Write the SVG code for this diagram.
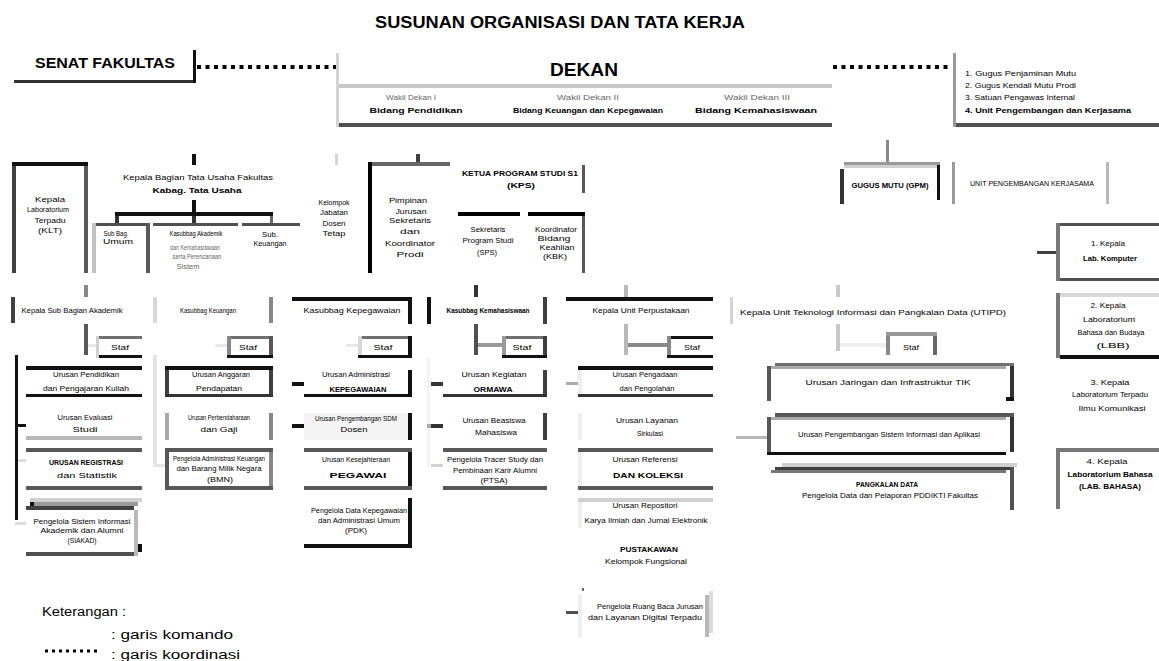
<svg xmlns="http://www.w3.org/2000/svg" width="1159" height="661" viewBox="0 0 1159 661">
<style>
  text { font-family: "Liberation Sans", Arial, sans-serif; font-size: 8px; fill: #000; text-anchor: middle; }
  .b { font-weight: bold; }
  .s { text-anchor: start; }
  .l { fill: #666; }
  .k { fill: #111; } .d3 { fill: #333; } .d4 { fill: #404040; } .d5 { fill: #505050; } .g58 { fill: #585858; }
  .g6 { fill: #666; } .g7 { fill: #707070; } .g78 { fill: #787878; } .g8 { fill: #888; } .g9 { fill: #999; }
  .ga { fill: #aaa; } .gb { fill: #b8b8b8; } .gc { fill: #c8c8c8; } .gd { fill: #d3d3d3; } .ge { fill: #e8e8e8; }
  .dot { stroke: #000; stroke-width: 4; stroke-dasharray: 4 4.5; fill: none; }
</style>
<rect width="1159" height="661" fill="#fff"/>

<text x="560" y="28" class="b" style="font-size:16px" textLength="370" lengthAdjust="spacingAndGlyphs">SUSUNAN ORGANISASI DAN TATA KERJA</text>

<!-- connectors -->
<g id="connectors">
  <line class="dot" x1="197" y1="67" x2="336" y2="67"/>
  <line class="dot" x1="833" y1="67" x2="952" y2="67"/>
  <!-- tata usaha branch -->
  <rect class="k" x="192" y="154" width="4" height="11"/>
  <rect class="k" x="192" y="200" width="4" height="14"/>
  <rect class="k" x="115" y="212" width="158" height="4"/>
  <rect class="d3" x="115" y="216" width="4" height="7"/>
  <rect class="d3" x="192" y="216" width="4" height="7"/>
  <rect class="g6" x="270" y="216" width="3" height="7"/>
  <rect class="gd" x="335" y="154" width="3" height="11"/>
  <rect class="d4" x="416" y="154" width="4" height="8"/>
  <rect class="g8" x="886" y="140" width="3" height="22"/>
  <rect class="d4" x="1037" y="251" width="19" height="3"/>
  <!-- column 1 -->
  <rect class="g8" x="84" y="285" width="4" height="12"/>
  <rect class="g58" x="84" y="324" width="4" height="31"/>
  <rect class="ge" x="88" y="344" width="8" height="3"/>
  <rect class="k" x="15" y="355" width="3" height="165"/>
  <rect class="k" x="15" y="424" width="11" height="3"/>
  <rect fill="#ddd" x="18" y="459" width="8" height="3"/>
  <rect fill="#ddd" x="15" y="522" width="11" height="3"/>
  <!-- column 2 -->
  <rect fill="#e4e4e4" x="153" y="355" width="4" height="110"/>
  <rect fill="#e4e4e4" x="153" y="464" width="12" height="3"/>
  <rect class="ge" x="215" y="344" width="12" height="3"/>
  <!-- column 3 -->
  <rect class="k" x="292" y="382" width="12" height="4"/>
  <rect class="k" x="292" y="424" width="12" height="4"/>
  <rect class="ge" x="346" y="344" width="12" height="3"/>
  <!-- column 4 -->
  <rect class="d3" x="474" y="285" width="4" height="12"/>
  <rect class="d5" x="474" y="324" width="4" height="31"/>
  <rect class="g9" x="478" y="343" width="24" height="4"/>
  <rect fill="#f4f4f4" x="427" y="358" width="3" height="109"/>
  <rect class="d3" x="431" y="382" width="12" height="4"/>
  <rect class="ga" x="427" y="424" width="4" height="4"/>
  <rect class="d3" x="431" y="424" width="12" height="4"/>
  <rect fill="#d0d0d0" x="431" y="464" width="12" height="3"/>
  <!-- column 5 -->
  <rect class="gb" x="624" y="285" width="4" height="12"/>
  <rect class="gb" x="624" y="324" width="4" height="31"/>
  <rect class="g8" x="628" y="343" width="39" height="4"/>
  <rect class="ga" x="566" y="382" width="12" height="3"/>
  <rect class="g6" x="582" y="588" width="2" height="3"/>
  <rect class="d5" x="566" y="611" width="12" height="3"/>
  <!-- column 6 -->
  <rect class="gc" x="836" y="285" width="4" height="12"/>
  <rect class="gc" x="836" y="324" width="4" height="27"/>
  <rect fill="#eee" x="840" y="343" width="46" height="4"/>
  <rect class="gb" x="736" y="436" width="31" height="3"/>
</g>

<!-- top row -->
<g id="senat">
  <rect class="d3" x="14" y="80" width="182" height="3"/>
  <rect class="k" x="193" y="50" width="3" height="33"/>
  <text x="105" y="68" class="b" style="font-size:14px" textLength="140" lengthAdjust="spacingAndGlyphs">SENAT FAKULTAS</text>
</g>

<g id="dekan">
  <rect class="gd" x="336" y="53" width="3" height="74"/>
  <rect class="gc" x="339" y="84" width="493" height="4"/>
  <rect class="d5" x="339" y="123" width="493" height="4"/>
  <text x="584" y="76" class="b" style="font-size:18px" textLength="68" lengthAdjust="spacingAndGlyphs">DEKAN</text>
  <text x="411" y="100" class="l" textLength="50" lengthAdjust="spacingAndGlyphs">Wakil Dekan I</text>
  <text x="416" y="113" class="b" textLength="93" lengthAdjust="spacingAndGlyphs">Bidang Pendidikan</text>
  <text x="588" y="100" class="l" textLength="62" lengthAdjust="spacingAndGlyphs">Wakil Dekan II</text>
  <text x="588" y="113" class="b" textLength="150" lengthAdjust="spacingAndGlyphs">Bidang Keuangan dan Kepegawaian</text>
  <text x="757" y="100" class="l" textLength="66" lengthAdjust="spacingAndGlyphs">Wakil Dekan III</text>
  <text x="756" y="113" class="b" textLength="122" lengthAdjust="spacingAndGlyphs">Bidang Kemahasiswaan</text>
</g>

<g id="pertimbangan">
  <rect class="g9" x="953" y="53" width="3" height="74"/>
  <rect class="d5" x="956" y="123" width="203" height="4"/>
  <text x="965" y="76" class="s" textLength="111" lengthAdjust="spacingAndGlyphs">1. Gugus Penjaminan Mutu</text>
  <text x="965" y="88" class="s" textLength="111" lengthAdjust="spacingAndGlyphs">2. Gugus Kendali Mutu Prodi</text>
  <text x="965" y="100" class="s" textLength="110" lengthAdjust="spacingAndGlyphs">3. Satuan Pengawas Internal</text>
  <text x="965" y="113" class="s b" textLength="166" lengthAdjust="spacingAndGlyphs">4. Unit Pengembangan dan Kerjasama</text>
</g>

<!-- second row -->
<g id="lab-terpadu">
  <rect class="k" x="12" y="162" width="76" height="4"/>
  <rect class="d4" x="12" y="166" width="4" height="107"/>
  <rect class="g58" x="84" y="166" width="4" height="107"/>
  <text x="50" y="202" textLength="30" lengthAdjust="spacingAndGlyphs">Kepala</text>
  <text x="48" y="212" textLength="42" lengthAdjust="spacingAndGlyphs">Laboratorium</text>
  <text x="50" y="223" textLength="31" lengthAdjust="spacingAndGlyphs">Terpadu</text>
  <text x="50" y="233" textLength="24" lengthAdjust="spacingAndGlyphs">(KLT)</text>
</g>

<g id="kabag-tu">
  <text x="198" y="180" textLength="150" lengthAdjust="spacingAndGlyphs">Kepala Bagian Tata Usaha Fakultas</text>
  <text x="197" y="193" class="b" textLength="89" lengthAdjust="spacingAndGlyphs">Kabag. Tata Usaha</text>
</g>

<g id="subbag-umum">
  <rect fill="#c0c0c0" x="92" y="223" width="4" height="50"/>
  <rect class="d5" x="96" y="223" width="52" height="3"/>
  <rect class="g58" x="146" y="223" width="4" height="50"/>
  <text x="116" y="236" textLength="25" lengthAdjust="spacingAndGlyphs">Sub Bag.</text>
  <text x="118" y="244" textLength="30" lengthAdjust="spacingAndGlyphs">Umum</text>
</g>

<g id="subbag-akademik">
  <rect class="d5" x="153" y="223" width="85" height="3"/>
  <text x="196" y="236" textLength="53" lengthAdjust="spacingAndGlyphs">Kasubbag Akademik</text>
  <text x="195" y="250" class="l" textLength="50" lengthAdjust="spacingAndGlyphs">dan Kemahasiswaan</text>
  <text x="197" y="259" class="l" textLength="49" lengthAdjust="spacingAndGlyphs">serta Perencanaan</text>
  <text x="188" y="269" class="l" textLength="23" lengthAdjust="spacingAndGlyphs">Sistem</text>
</g>

<g id="subbag-keuangan">
  <rect class="d5" x="242" y="223" width="58" height="3"/>
  <text x="270" y="237" textLength="16" lengthAdjust="spacingAndGlyphs">Sub.</text>
  <text x="270" y="246" textLength="33" lengthAdjust="spacingAndGlyphs">Keuangan</text>
</g>

<g id="kelompok-dosen">
  <text x="334" y="205" textLength="31" lengthAdjust="spacingAndGlyphs">Kelompok</text>
  <text x="334" y="215" textLength="28" lengthAdjust="spacingAndGlyphs">Jabatan</text>
  <text x="334" y="226" textLength="23" lengthAdjust="spacingAndGlyphs">Dosen</text>
  <text x="334" y="236" textLength="23" lengthAdjust="spacingAndGlyphs">Tetap</text>
</g>

<g id="jurusan">
  <rect class="g6" x="368" y="162" width="82" height="4"/>
  <rect fill="#000" x="368" y="162" width="4" height="111"/>
  <text x="408" y="203" textLength="38" lengthAdjust="spacingAndGlyphs">Pimpinan</text>
  <text x="411" y="214" textLength="31" lengthAdjust="spacingAndGlyphs">Jurusan</text>
  <text x="410" y="223" textLength="42" lengthAdjust="spacingAndGlyphs">Sekretaris</text>
  <text x="410" y="234" textLength="20" lengthAdjust="spacingAndGlyphs">dan</text>
  <text x="410" y="246" textLength="50" lengthAdjust="spacingAndGlyphs">Koordinator</text>
  <text x="410" y="257" textLength="27" lengthAdjust="spacingAndGlyphs">Prodi</text>
</g>

<g id="kps">
  <rect class="g58" x="582" y="165" width="3" height="28"/>
  <text x="520" y="176" class="b" style="font-size:7.5px" textLength="116" lengthAdjust="spacingAndGlyphs">KETUA PROGRAM STUDI S1</text>
  <text x="521" y="188" class="b" style="font-size:7.5px" textLength="28" lengthAdjust="spacingAndGlyphs">(KPS)</text>
</g>

<g id="sps">
  <rect fill="#000" x="458" y="212" width="62" height="4"/>
  <text x="488" y="232" textLength="35" lengthAdjust="spacingAndGlyphs">Sekretaris</text>
  <text x="488" y="243" textLength="51" lengthAdjust="spacingAndGlyphs">Program Studi</text>
  <text x="487" y="255" textLength="20" lengthAdjust="spacingAndGlyphs">(SPS)</text>
</g>

<g id="kbk">
  <rect fill="#000" x="528" y="212" width="57" height="4"/>
  <rect class="g58" x="582" y="216" width="3" height="57"/>
  <text x="556" y="232" textLength="42" lengthAdjust="spacingAndGlyphs">Koordinator</text>
  <text x="554" y="241" textLength="33" lengthAdjust="spacingAndGlyphs">Bidang</text>
  <text x="557" y="250" textLength="35" lengthAdjust="spacingAndGlyphs">Keahlian</text>
  <text x="555" y="259" textLength="24" lengthAdjust="spacingAndGlyphs">(KBK)</text>
</g>

<g id="gugus-mutu">
  <rect class="g9" x="844" y="162" width="96" height="3"/>
  <rect fill="#d0d0d0" x="844" y="165" width="93" height="3"/>
  <rect class="d3" x="840" y="169" width="4" height="35"/>
  <rect class="k" x="937" y="165" width="3" height="35"/>
  <text x="890" y="188" class="b" style="font-size:7.5px" textLength="77" lengthAdjust="spacingAndGlyphs">GUGUS MUTU (GPM)</text>
</g>

<g id="unit-kerjasama">
  <rect class="g9" x="952" y="162" width="3" height="42"/>
  <rect class="gb" x="1106" y="162" width="3" height="42"/>
  <text x="1032" y="186" style="font-size:7.5px" textLength="124" lengthAdjust="spacingAndGlyphs">UNIT PENGEMBANGAN KERJASAMA</text>
</g>

<!-- laboratories -->
<g id="lab-1">
  <rect class="g78" x="1056" y="223" width="4" height="58"/>
  <rect class="d5" x="1060" y="223" width="99" height="3"/>
  <rect class="d5" x="1060" y="278" width="99" height="3"/>
  <text x="1108" y="246" textLength="34" lengthAdjust="spacingAndGlyphs">1. Kepala</text>
  <text x="1110" y="261" class="b" textLength="54" lengthAdjust="spacingAndGlyphs">Lab. Komputer</text>
</g>

<g id="lab-2">
  <rect fill="#d8d8d8" x="1060" y="293" width="99" height="4"/>
  <rect class="g78" x="1056" y="293" width="4" height="65"/>
  <rect class="k" x="1060" y="355" width="99" height="4"/>
  <text x="1108" y="308" textLength="35" lengthAdjust="spacingAndGlyphs">2. Kepala</text>
  <text x="1109" y="322" textLength="52" lengthAdjust="spacingAndGlyphs">Laboratorium</text>
  <text x="1111" y="335" textLength="67" lengthAdjust="spacingAndGlyphs">Bahasa dan Budaya</text>
  <text x="1113" y="348" textLength="33" lengthAdjust="spacingAndGlyphs">(LBB)</text>
</g>

<g id="lab-3">
  <text x="1110" y="385" textLength="39" lengthAdjust="spacingAndGlyphs">3. Kepala</text>
  <text x="1110" y="397" textLength="76" lengthAdjust="spacingAndGlyphs">Laboratorium Terpadu</text>
  <text x="1112" y="411" textLength="67" lengthAdjust="spacingAndGlyphs">Ilmu Komunikasi</text>
</g>

<g id="lab-4">
  <rect class="g78" x="1060" y="448" width="99" height="4"/>
  <rect class="g78" x="1056" y="448" width="4" height="61"/>
  <text x="1107" y="464" textLength="41" lengthAdjust="spacingAndGlyphs">4. Kepala</text>
  <text x="1110" y="477" class="b" textLength="85" lengthAdjust="spacingAndGlyphs">Laboratorium Bahasa</text>
  <text x="1110" y="489" class="b" textLength="62" lengthAdjust="spacingAndGlyphs">(LAB. BAHASA)</text>
</g>

<!-- column 1 -->
<g id="c1-head">
  <rect class="d4" x="11" y="297" width="4" height="26"/>
  <text x="72" y="313" textLength="101" lengthAdjust="spacingAndGlyphs">Kepala Sub Bagian Akademik</text>
</g>
<g id="c1-staf">
  <rect fill="#d0d0d0" x="96" y="336" width="3" height="22"/>
  <rect class="g7" x="99" y="336" width="43" height="3"/>
  <rect class="k" x="99" y="355" width="43" height="3"/>
  <text x="120" y="350" textLength="18" lengthAdjust="spacingAndGlyphs">Staf</text>
</g>
<g id="c1-a">
  <rect class="k" x="26" y="366" width="116" height="4"/>
  <rect class="k" x="26" y="394" width="116" height="3"/>
  <text x="86" y="377" textLength="66" lengthAdjust="spacingAndGlyphs">Urusan Pendidikan</text>
  <text x="86" y="391" textLength="86" lengthAdjust="spacingAndGlyphs">dan Pengajaran Kuliah</text>
</g>
<g id="c1-b">
  <rect class="gb" x="26" y="436" width="116" height="4"/>
  <text x="85" y="420" textLength="55" lengthAdjust="spacingAndGlyphs">Urusan Evaluasi</text>
  <text x="85" y="432" textLength="25" lengthAdjust="spacingAndGlyphs">Studi</text>
</g>
<g id="c1-c">
  <rect class="g58" x="26" y="448" width="116" height="4"/>
  <rect class="g58" x="26" y="486" width="116" height="4"/>
  <text x="86" y="465" class="b" style="font-size:7.5px" textLength="74" lengthAdjust="spacingAndGlyphs">URUSAN REGISTRASI</text>
  <text x="87" y="478" textLength="60" lengthAdjust="spacingAndGlyphs">dan Statistik</text>
</g>
<g id="c1-d">
  <rect fill="#d0d0d0" x="30" y="498" width="112" height="4"/>
  <rect class="g9" x="34" y="502" width="104" height="4"/>
  <rect class="k" x="30" y="502" width="4" height="4"/>
  <rect class="d4" x="26" y="506" width="108" height="4"/>
  <rect class="gb" x="134" y="510" width="4" height="46"/>
  <rect class="k" x="138" y="544" width="4" height="8"/>
  <rect class="d5" x="26" y="552" width="108" height="4"/>
  <text x="82" y="524" textLength="97" lengthAdjust="spacingAndGlyphs">Pengelola Sistem Informasi</text>
  <text x="82" y="533" textLength="83" lengthAdjust="spacingAndGlyphs">Akademik dan Alumni</text>
  <text x="82" y="543" textLength="29" lengthAdjust="spacingAndGlyphs">(SIAKAD)</text>
</g>

<!-- column 2 -->
<g id="c2-head">
  <rect fill="#d8d8d8" x="153" y="297" width="4" height="26"/>
  <rect class="g8" x="269" y="297" width="4" height="26"/>
  <text x="208" y="313" textLength="56" lengthAdjust="spacingAndGlyphs">Kasubbag Keuangan</text>
</g>
<g id="c2-staf">
  <rect class="g8" x="227" y="336" width="4" height="22"/>
  <rect class="g7" x="231" y="336" width="42" height="3"/>
  <rect class="g58" x="269" y="336" width="4" height="22"/>
  <rect class="k" x="227" y="355" width="46" height="3"/>
  <text x="248" y="350" textLength="18" lengthAdjust="spacingAndGlyphs">Staf</text>
</g>
<g id="c2-a">
  <rect class="k" x="165" y="366" width="108" height="4"/>
  <rect class="d4" x="165" y="370" width="4" height="27"/>
  <rect class="d4" x="269" y="370" width="4" height="27"/>
  <rect class="d3" x="165" y="394" width="108" height="3"/>
  <text x="221" y="377" textLength="58" lengthAdjust="spacingAndGlyphs">Urusan Anggaran</text>
  <text x="219" y="391" textLength="46" lengthAdjust="spacingAndGlyphs">Pendapatan</text>
</g>
<g id="c2-b">
  <rect class="ga" x="165" y="413" width="4" height="27"/>
  <rect class="g8" x="269" y="413" width="4" height="27"/>
  <text x="219" y="420" textLength="62" lengthAdjust="spacingAndGlyphs">Urusan Perbendaharaan</text>
  <text x="219" y="432" textLength="37" lengthAdjust="spacingAndGlyphs">dan Gaji</text>
</g>
<g id="c2-c">
  <rect class="g58" x="165" y="448" width="108" height="4"/>
  <rect class="g58" x="165" y="486" width="108" height="4"/>
  <rect class="g58" x="165" y="452" width="4" height="34"/>
  <rect class="g8" x="269" y="452" width="4" height="34"/>
  <text x="219" y="461" textLength="92" lengthAdjust="spacingAndGlyphs">Pengelola Administrasi Keuangan</text>
  <text x="219" y="471" textLength="85" lengthAdjust="spacingAndGlyphs">dan Barang Milik Negara</text>
  <text x="220" y="482" textLength="26" lengthAdjust="spacingAndGlyphs">(BMN)</text>
</g>

<!-- column 3 -->
<g id="c3-head">
  <rect class="k" x="292" y="297" width="120" height="4"/>
  <rect class="k" x="408" y="297" width="4" height="27"/>
  <text x="352" y="313" textLength="97" lengthAdjust="spacingAndGlyphs">Kasubbag Kepegawaian</text>
</g>
<g id="c3-staf">
  <rect fill="#d8d8d8" x="358" y="336" width="4" height="22"/>
  <rect class="g7" x="362" y="336" width="50" height="3"/>
  <rect class="k" x="408" y="336" width="4" height="22"/>
  <rect class="k" x="358" y="355" width="54" height="3"/>
  <text x="383" y="350" textLength="19" lengthAdjust="spacingAndGlyphs">Staf</text>
</g>
<g id="c3-a">
  <rect class="k" x="408" y="370" width="4" height="27"/>
  <rect class="k" x="304" y="394" width="108" height="3"/>
  <text x="356" y="377" textLength="68" lengthAdjust="spacingAndGlyphs">Urusan Administrasi</text>
  <text x="358" y="392" class="b" style="font-size:7.5px" textLength="57" lengthAdjust="spacingAndGlyphs">KEPEGAWAIAN</text>
</g>
<g id="c3-b">
  <rect fill="#f4f4f4" x="304" y="413" width="104" height="27"/>
  <rect class="k" x="408" y="413" width="4" height="27"/>
  <text x="356" y="421" textLength="82" lengthAdjust="spacingAndGlyphs">Urusan Pengembangan SDM</text>
  <text x="354" y="432" textLength="27" lengthAdjust="spacingAndGlyphs">Dosen</text>
</g>
<g id="c3-c">
  <rect class="g58" x="304" y="448" width="108" height="4"/>
  <rect class="g58" x="304" y="486" width="108" height="4"/>
  <rect class="k" x="408" y="452" width="4" height="34"/>
  <text x="356" y="462" textLength="68" lengthAdjust="spacingAndGlyphs">Urusan Kesejahteraan</text>
  <text x="358" y="478" class="b" style="font-size:7.5px" textLength="57" lengthAdjust="spacingAndGlyphs">PEGAWAI</text>
</g>
<g id="c3-d">
  <rect class="k" x="408" y="498" width="4" height="50"/>
  <rect class="k" x="304" y="544" width="108" height="4"/>
  <text x="359" y="513" textLength="96" lengthAdjust="spacingAndGlyphs">Pengelola Data Kepegawaian</text>
  <text x="359" y="523" textLength="82" lengthAdjust="spacingAndGlyphs">dan Administrasi Umum</text>
  <text x="356" y="533" textLength="22" lengthAdjust="spacingAndGlyphs">(PDK)</text>
</g>

<!-- column 4 -->
<g id="c4-head">
  <rect class="k" x="427" y="297" width="4" height="27"/>
  <rect class="d4" x="543" y="297" width="4" height="27"/>
  <text x="488" y="313" class="b" textLength="83" lengthAdjust="spacingAndGlyphs">Kasubbag Kemahasiswaan</text>
</g>
<g id="c4-staf">
  <rect class="g9" x="502" y="336" width="4" height="22"/>
  <rect class="g7" x="506" y="336" width="41" height="3"/>
  <rect class="d4" x="543" y="336" width="4" height="22"/>
  <rect class="k" x="502" y="355" width="45" height="3"/>
  <text x="522" y="350" textLength="19" lengthAdjust="spacingAndGlyphs">Staf</text>
</g>
<g id="c4-a">
  <rect class="d4" x="543" y="370" width="4" height="27"/>
  <rect class="d3" x="443" y="394" width="104" height="3"/>
  <text x="494" y="377" textLength="65" lengthAdjust="spacingAndGlyphs">Urusan Kegiatan</text>
  <text x="493" y="392" class="b" style="font-size:7.5px" textLength="39" lengthAdjust="spacingAndGlyphs">ORMAWA</text>
</g>
<g id="c4-b">
  <rect class="d4" x="543" y="413" width="4" height="27"/>
  <text x="494" y="423" textLength="63" lengthAdjust="spacingAndGlyphs">Urusan Beasiswa</text>
  <text x="496" y="435" textLength="42" lengthAdjust="spacingAndGlyphs">Mahasiswa</text>
</g>
<g id="c4-c">
  <rect class="g58" x="443" y="448" width="104" height="4"/>
  <rect class="g58" x="443" y="486" width="104" height="4"/>
  <text x="495" y="462" textLength="96" lengthAdjust="spacingAndGlyphs">Pengelola Tracer Study dan</text>
  <text x="495" y="473" textLength="84" lengthAdjust="spacingAndGlyphs">Pembinaan Karir Alumni</text>
  <text x="494" y="483" textLength="27" lengthAdjust="spacingAndGlyphs">(PTSA)</text>
</g>

<!-- column 5 -->
<g id="c5-head">
  <rect class="k" x="566" y="297" width="147" height="4"/>
  <text x="641" y="313" textLength="97" lengthAdjust="spacingAndGlyphs">Kepala Unit Perpustakaan</text>
</g>
<g id="c5-staf">
  <rect class="g8" x="667" y="336" width="4" height="22"/>
  <rect class="k" x="671" y="336" width="42" height="3"/>
  <rect class="k" x="667" y="355" width="46" height="3"/>
  <text x="692" y="350" textLength="16" lengthAdjust="spacingAndGlyphs">Staf</text>
</g>
<g id="c5-a">
  <rect class="k" x="578" y="366" width="135" height="4"/>
  <rect class="d3" x="578" y="394" width="135" height="3"/>
  <rect fill="#eee" x="578" y="370" width="4" height="24"/>
  <text x="645" y="377" textLength="65" lengthAdjust="spacingAndGlyphs">Urusan Pengadaan</text>
  <text x="647" y="391" textLength="55" lengthAdjust="spacingAndGlyphs">dan Pengolahan</text>
</g>
<g id="c5-b">
  <rect fill="#eee" x="578" y="413" width="4" height="27"/>
  <text x="647" y="423" textLength="62" lengthAdjust="spacingAndGlyphs">Urusan Layanan</text>
  <text x="650" y="436" textLength="26" lengthAdjust="spacingAndGlyphs">Sirkulasi</text>
</g>
<g id="c5-c">
  <rect class="g58" x="578" y="448" width="135" height="4"/>
  <rect class="g58" x="578" y="486" width="135" height="4"/>
  <rect fill="#eee" x="578" y="452" width="4" height="34"/>
  <text x="645" y="462" textLength="65" lengthAdjust="spacingAndGlyphs">Urusan Referensi</text>
  <text x="648" y="478" class="b" style="font-size:7.5px" textLength="70" lengthAdjust="spacingAndGlyphs">DAN KOLEKSI</text>
</g>
<g id="c5-d">
  <rect fill="#d0d0d0" x="578" y="498" width="135" height="4"/>
  <rect fill="#eee" x="578" y="502" width="4" height="26"/>
  <text x="645" y="508" textLength="65" lengthAdjust="spacingAndGlyphs">Urusan Repositori</text>
  <text x="646" y="523" textLength="123" lengthAdjust="spacingAndGlyphs">Karya Ilmiah dan Jurnal Elektronik</text>
</g>
<g id="c5-e">
  <text x="649" y="552" class="b" style="font-size:7.5px" textLength="58" lengthAdjust="spacingAndGlyphs">PUSTAKAWAN</text>
  <text x="646" y="564" textLength="82" lengthAdjust="spacingAndGlyphs">Kelompok Fungsional</text>
</g>
<g id="c5-f">
  <rect fill="#eee" x="578" y="595" width="4" height="42"/>
  <rect class="gb" x="705" y="595" width="4" height="42"/>
  <rect fill="#dcdcdc" x="709" y="591" width="4" height="42"/>
  <text x="650" y="609" textLength="106" lengthAdjust="spacingAndGlyphs">Pengelola Ruang Baca Jurusan</text>
  <text x="645" y="620" textLength="114" lengthAdjust="spacingAndGlyphs">dan Layanan Digital Terpadu</text>
</g>

<!-- column 6 -->
<g id="c6-head">
  <rect class="gd" x="730" y="297" width="3" height="27"/>
  <text x="873" y="315" textLength="266" lengthAdjust="spacingAndGlyphs">Kepala Unit Teknologi Informasi dan Pangkalan Data (UTIPD)</text>
</g>
<g id="c6-staf">
  <rect class="g9" x="886" y="332" width="51" height="4"/>
  <rect class="g8" x="886" y="336" width="4" height="19"/>
  <rect class="g6" x="933" y="336" width="4" height="19"/>
  <text x="911" y="350" textLength="16" lengthAdjust="spacingAndGlyphs">Staf</text>
</g>
<g id="c6-a">
  <rect class="g7" x="775" y="363" width="239" height="3"/>
  <rect class="ga" x="771" y="366" width="235" height="3"/>
  <rect class="g58" x="767" y="366" width="4" height="35"/>
  <rect class="d3" x="1010" y="366" width="4" height="32"/>
  <rect class="k" x="1006" y="397" width="8" height="4"/>
  <text x="888" y="385" textLength="165" lengthAdjust="spacingAndGlyphs">Urusan Jaringan dan Infrastruktur TIK</text>
</g>
<g id="c6-b">
  <rect class="g58" x="775" y="413" width="239" height="4"/>
  <rect class="ga" x="771" y="417" width="235" height="3"/>
  <rect class="g58" x="767" y="417" width="4" height="37"/>
  <rect class="d3" x="1010" y="417" width="4" height="35"/>
  <rect class="k" x="767" y="452" width="239" height="3"/>
  <text x="889" y="437" textLength="182" lengthAdjust="spacingAndGlyphs">Urusan Pengembangan Sistem Informasi dan Aplikasi</text>
</g>
<g id="c6-c">
  <rect fill="#d0d0d0" x="782" y="463" width="235" height="4"/>
  <rect class="d4" x="775" y="467" width="239" height="3"/>
  <rect fill="#777" x="771" y="470" width="235" height="3"/>
  <rect class="d5" x="1010" y="467" width="4" height="43"/>
  <text x="887" y="487" class="b" style="font-size:7.5px" textLength="62" lengthAdjust="spacingAndGlyphs">PANGKALAN DATA</text>
  <text x="890" y="498" textLength="176" lengthAdjust="spacingAndGlyphs">Pengelola Data dan Pelaporan PDDIKTI Fakultas</text>
</g>

<!-- legend -->
<g id="legend">
  <text x="42" y="616" class="s" style="font-size:12px" textLength="84" lengthAdjust="spacingAndGlyphs">Keterangan :</text>
  <text x="111" y="639" class="s" style="font-size:12px" textLength="122" lengthAdjust="spacingAndGlyphs">: garis komando</text>
  <line class="dot" x1="45" y1="651" x2="98" y2="651" style="stroke-width:3;stroke-dasharray:3 4"/>
  <text x="111" y="659" class="s" style="font-size:12px" textLength="129" lengthAdjust="spacingAndGlyphs">: garis koordinasi</text>
</g>
</svg>
